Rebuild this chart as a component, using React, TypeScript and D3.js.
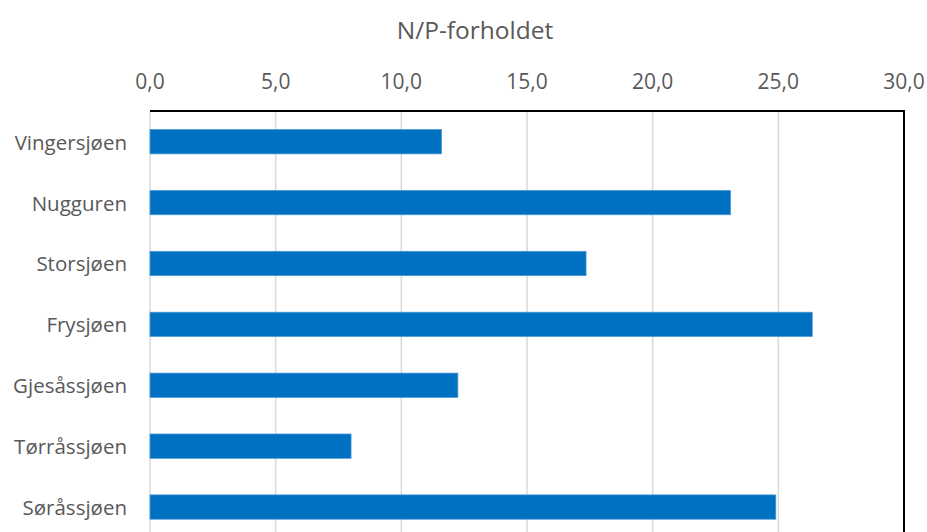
import React from "react";
import * as d3 from "d3";

const categories = ["Vingersjøen", "Nugguren", "Storsjøen", "Frysjøen", "Gjesåssjøen", "Tørråssjøen", "Søråssjøen"];
const values = [11.6, 23.1, 17.35, 26.35, 12.25, 8.0, 24.9];
const tickValues = [0, 5, 10, 15, 20, 25, 30];
const title = "N/P-forholdet";

const W = 927;
const H = 532;

export default function App() {
  const x = d3.scaleLinear().domain([0, 30]).range([150, 904]);
  const y = d3.scaleBand<string>().domain(categories).range([111.25, 537.5]).paddingInner(0.6).paddingOuter(0.3);
  const fmt = (v: number) => v.toFixed(1).replace(".", ",");
  const font = "'Open Sans', sans-serif";
  return (
    <svg width={W} height={H} style={{ position: "absolute", left: 0, top: 0, background: "#fff" }} fontFamily={font}>
      <text x={475} y={38.5} textAnchor="middle" fontSize={24.5} fill="#595959">{title}</text>
      {tickValues.map((t) => (
        <g key={t}>
          <line x1={x(t)} x2={x(t)} y1={111} y2={H} stroke="#d9d9d9" strokeWidth={1.5} />
          <text x={x(t)} y={88.5} textAnchor="middle" fontSize={21} fill="#595959">{fmt(t)}</text>
        </g>
      ))}
      {categories.map((c, i) => (
        <g key={c}>
          <rect x={x(0)} y={y(c)} width={x(values[i]) - x(0)} height={y.bandwidth()} fill="#0070C0" stroke="#4a9ad8" strokeWidth={0.75} />
          <text x={127} y={(y(c) as number) + y.bandwidth() / 2 + 8} textAnchor="end" fontSize={20.5} fill="#595959">{c}</text>
        </g>
      ))}
      <line x1={x(0)} x2={x(30) + 1} y1={111} y2={111} stroke="#000" strokeWidth={2} />
      <line x1={x(30)} x2={x(30)} y1={110} y2={H} stroke="#000" strokeWidth={2} />
    </svg>
  );
}
